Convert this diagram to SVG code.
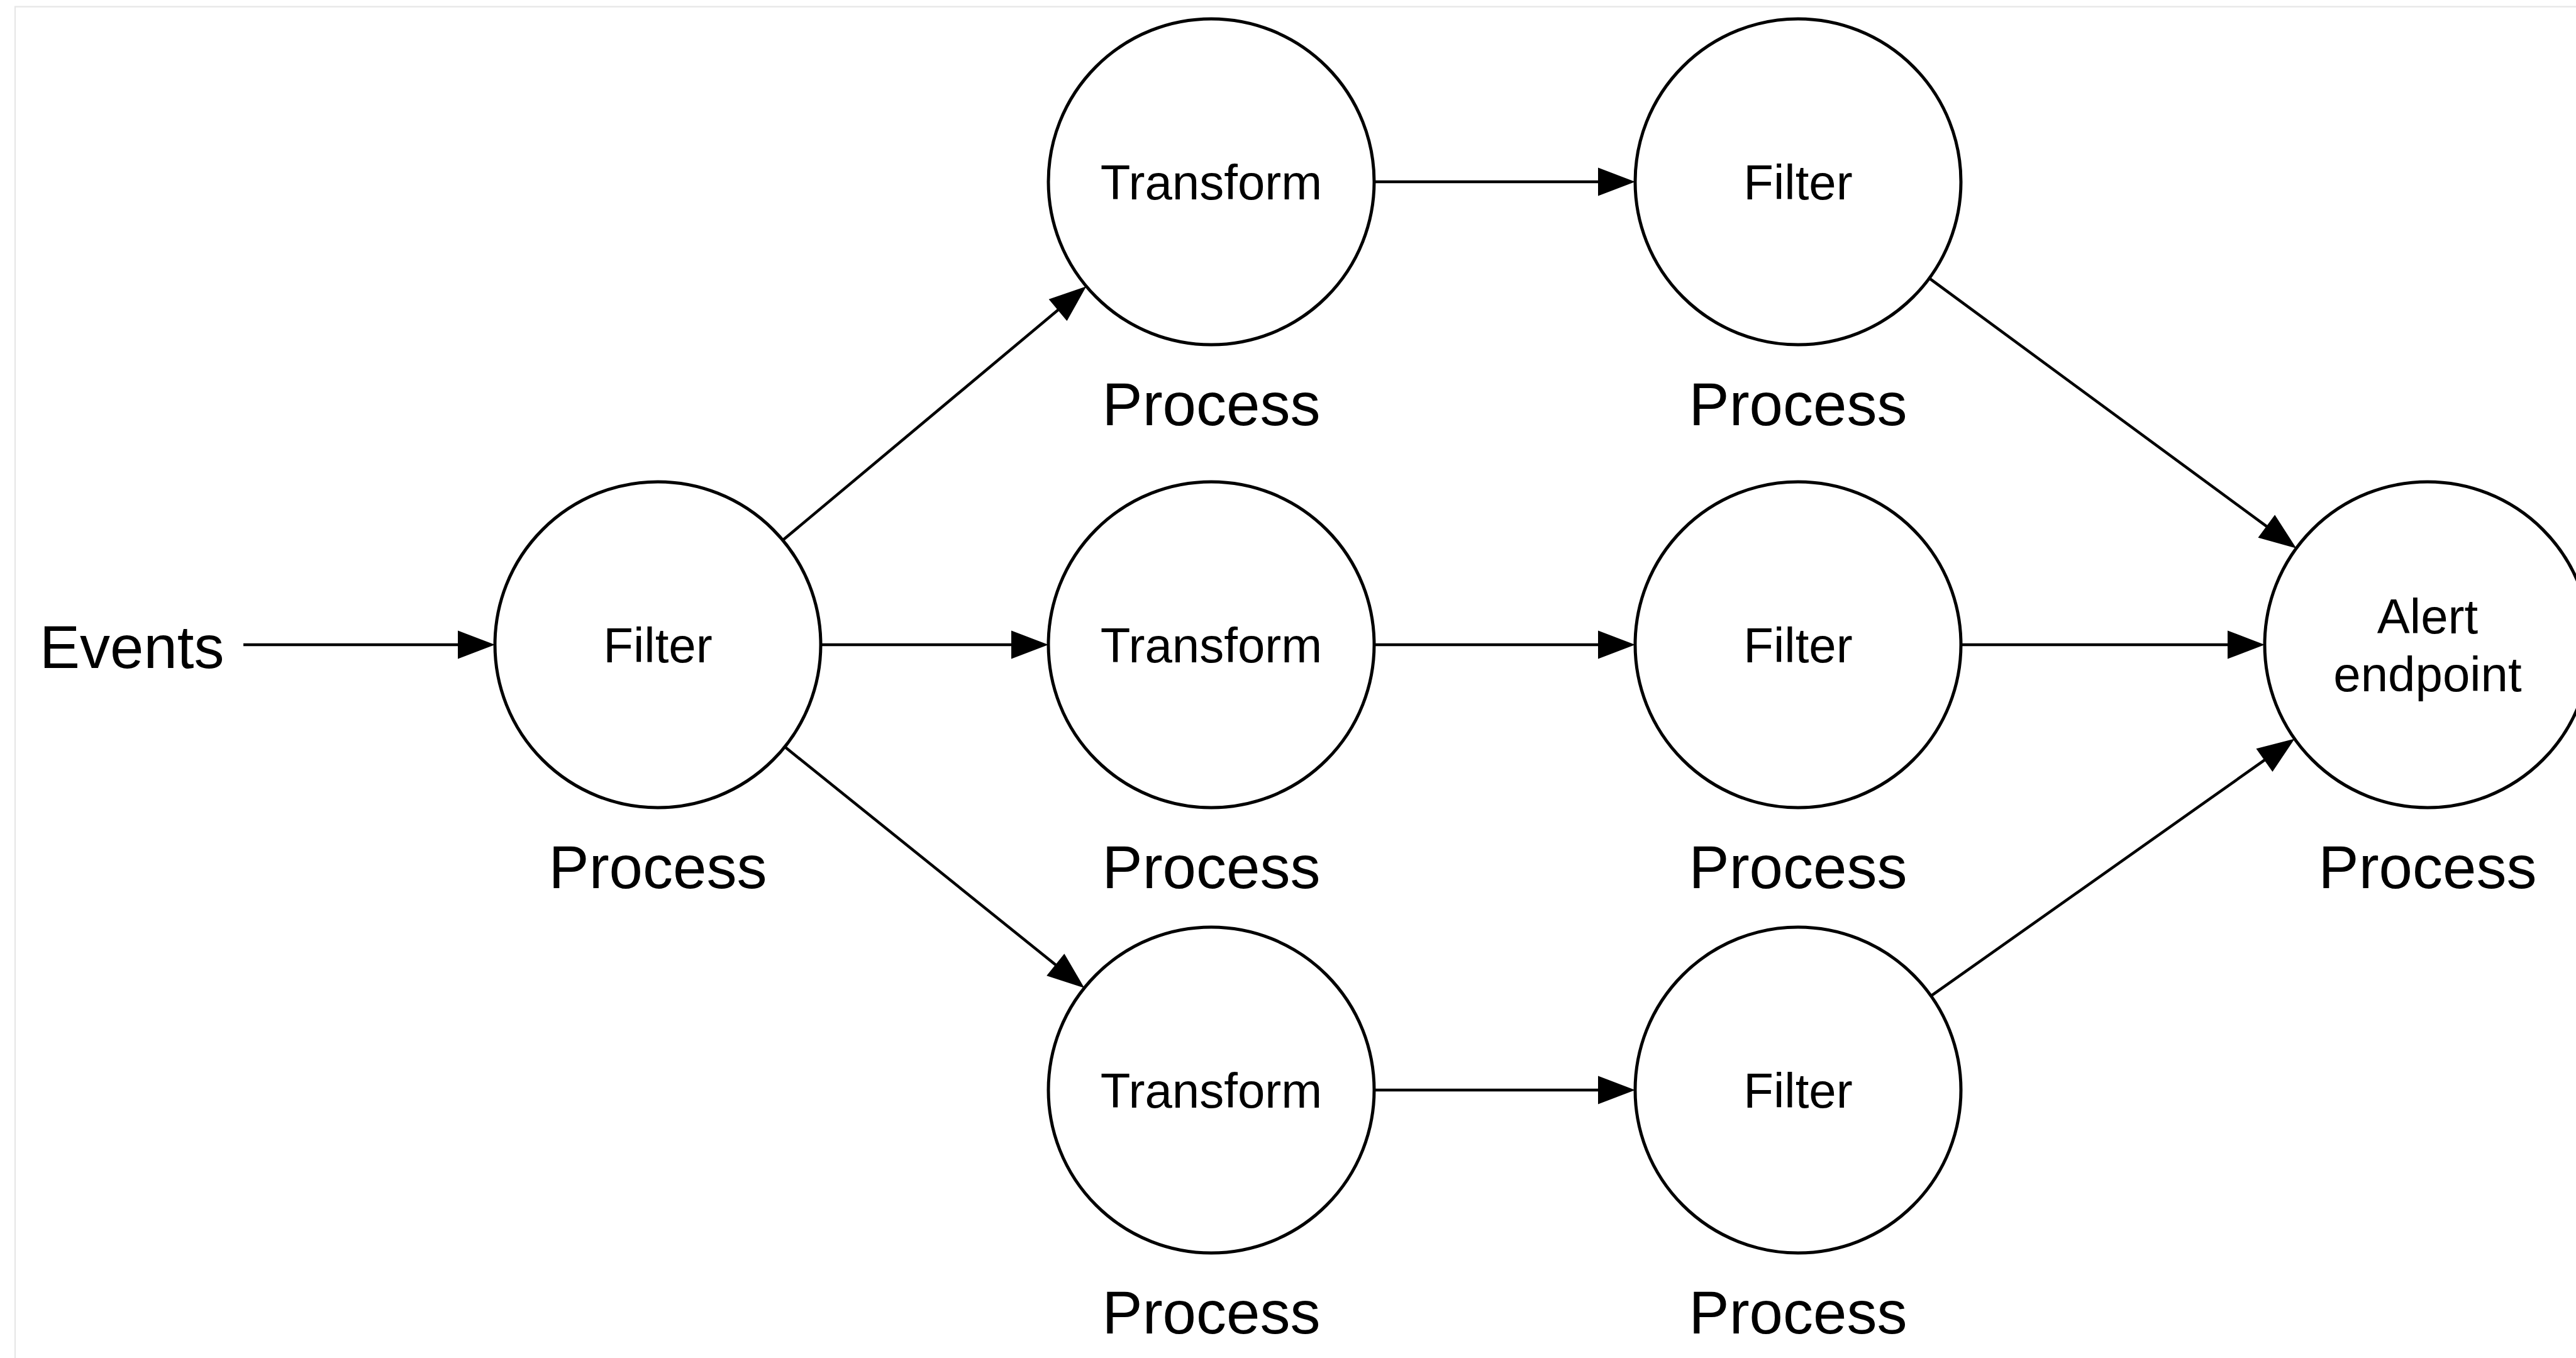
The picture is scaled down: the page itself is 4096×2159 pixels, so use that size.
<svg xmlns="http://www.w3.org/2000/svg" width="4096" height="2159" viewBox="0 0 4096 2159">
<style>
.node{fill:#ffffff;stroke:#000000;stroke-width:5}
.lbl{font-family:"Liberation Sans",Arial,Helvetica,sans-serif;font-size:78px;fill:#000000;text-anchor:middle}
.big{font-family:"Liberation Sans",Arial,Helvetica,sans-serif;font-size:96px;fill:#000000;text-anchor:middle}
.start{text-anchor:start}
.edge{fill:none;stroke:#000000;stroke-width:4.5;marker-end:url(#arrow)}
.frame{fill:none;stroke:#e6e6e6;stroke-width:2.2}
</style>
<defs>
<marker id="arrow" markerUnits="userSpaceOnUse" markerWidth="59" markerHeight="45" refX="51" refY="22.5" orient="auto" overflow="visible">
<path d="M0,0 L59,22.5 L0,45 Z" fill="#000000"/>
</marker>
</defs>
<rect x="0" y="0" width="4096" height="2159" fill="#ffffff"/>
<path class="frame" d="M24,2159 L24,10.6 L4096,10.6"/>
<g id="connectors">
<path class="edge" d="M387,1025 L779,1025"/>
<path class="edge" d="M1305,1025 L1659,1025"/>
<path class="edge" d="M1244.7,858.8 L1721.2,460.3"/>
<path class="edge" d="M1247.8,1187.3 L1718.0,1565.7"/>
<path class="edge" d="M2185,289 L2592,289"/>
<path class="edge" d="M2185,1025 L2592,1025"/>
<path class="edge" d="M2185,1733 L2592,1733"/>
<path class="edge" d="M3067.7,442.4 L3644.9,866.9"/>
<path class="edge" d="M3118,1025 L3593,1025"/>
<path class="edge" d="M3070.4,1583.4 L3642.1,1179.2"/>
</g>
<g id="events"><text class="big start" x="63" y="1062">Events</text></g>
<g id="filter1"><circle class="node" cx="1046" cy="1025" r="259"/><text class="lbl" x="1046" y="1053">Filter</text><text class="big" x="1046" y="1412">Process</text></g>
<g id="transform-top"><circle class="node" cx="1926" cy="289" r="259"/><text class="lbl" x="1926" y="317">Transform</text><text class="big" x="1926" y="676">Process</text></g>
<g id="transform-mid"><circle class="node" cx="1926" cy="1025" r="259"/><text class="lbl" x="1926" y="1053">Transform</text><text class="big" x="1926" y="1412">Process</text></g>
<g id="transform-bot"><circle class="node" cx="1926" cy="1733" r="259"/><text class="lbl" x="1926" y="1761">Transform</text><text class="big" x="1926" y="2120">Process</text></g>
<g id="filter-top"><circle class="node" cx="2859" cy="289" r="259"/><text class="lbl" x="2859" y="317">Filter</text><text class="big" x="2859" y="676">Process</text></g>
<g id="filter-mid"><circle class="node" cx="2859" cy="1025" r="259"/><text class="lbl" x="2859" y="1053">Filter</text><text class="big" x="2859" y="1412">Process</text></g>
<g id="filter-bot"><circle class="node" cx="2859" cy="1733" r="259"/><text class="lbl" x="2859" y="1761">Filter</text><text class="big" x="2859" y="2120">Process</text></g>
<g id="alert"><circle class="node" cx="3860" cy="1025" r="259"/><text class="lbl" x="3860" y="1007">Alert</text><text class="lbl" x="3860" y="1099">endpoint</text><text class="big" x="3860" y="1412">Process</text></g>
</svg>
